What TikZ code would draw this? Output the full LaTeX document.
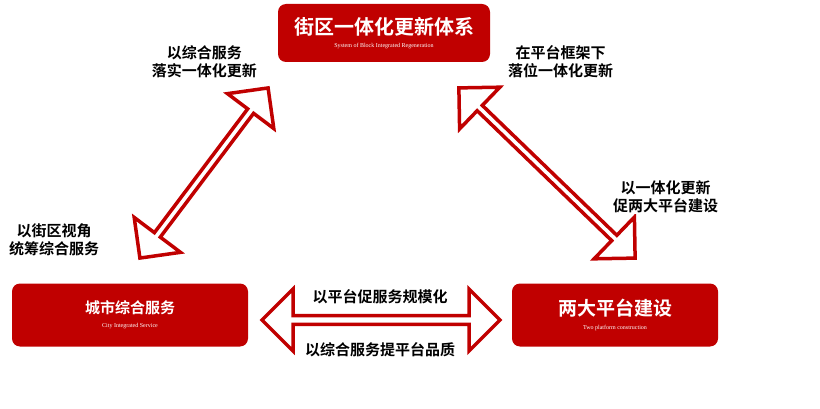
\documentclass[tikz,border=0pt]{standalone}
\usepackage{fontspec}
\setmainfont{Liberation Serif}
\newfontfamily\cjk{Noto Sans CJK SC}[BoldFont={Noto Sans CJK SC Bold}]
\usetikzlibrary{shapes.arrows}
\definecolor{boxred}{HTML}{C00000}
\tikzset{
  block/.style={draw=none,fill=boxred,rounded corners=8pt,text=white,align=center,inner sep=0pt},
  darrow/.style={double arrow,draw=boxred,fill=white,line width=3.5pt,minimum width=58pt,double arrow head extend=12pt,inner sep=0pt},
  lbl/.style={font=\cjk\bfseries\fontsize{15}{18}\selectfont,align=center,fill=white,inner sep=1pt}
}
\begin{document}
\begin{tikzpicture}[x=1pt,y=-1pt]
  \useasboundingbox (0,0) rectangle (820,409);
  \node[block,minimum width=212pt,minimum height=58pt] (top) at (384,33)
    {{\cjk\bfseries\fontsize{20}{22}\selectfont 街区一体化更新体系}\\[1pt]{\fontsize{6}{7}\selectfont System of Block Integrated Regeneration}};
  \node[block,minimum width=236pt,minimum height=63pt] (city) at (130,315)
    {{\cjk\bfseries\fontsize{15}{17}\selectfont 城市综合服务}\\[2pt]{\fontsize{6}{7}\selectfont City Integrated Service}};
  \node[block,minimum width=206pt,minimum height=63pt] (two) at (615,315)
    {{\cjk\bfseries\fontsize{19}{21}\selectfont 两大平台建设}\\[2pt]{\fontsize{6}{7}\selectfont Two platform construction}};
  % connectors
  \node[darrow,minimum height=213pt,rotate=53] (la) at (204,173) {};
  \node[darrow,minimum height=245pt,rotate=-44] (ra) at (547,173) {};
  \node[darrow,minimum height=238pt,minimum width=62pt,double arrow head extend=11pt] (ba) at (381,320) {};
  % labels
  \node[lbl,anchor=east] at (258,62) {以综合服务\\落实一体化更新};
  \node[lbl,anchor=west] at (507,62) {在平台框架下\\落位一体化更新};
  \node[lbl,anchor=west] at (8,240) {以街区视角\\统筹综合服务};
  \node[lbl,anchor=west] at (612,197) {以一体化更新\\促两大平台建设};
  \node[lbl] at (380,297) {以平台促服务规模化};
  \node[lbl] at (380,350) {以综合服务提平台品质};
\end{tikzpicture}
\end{document}
